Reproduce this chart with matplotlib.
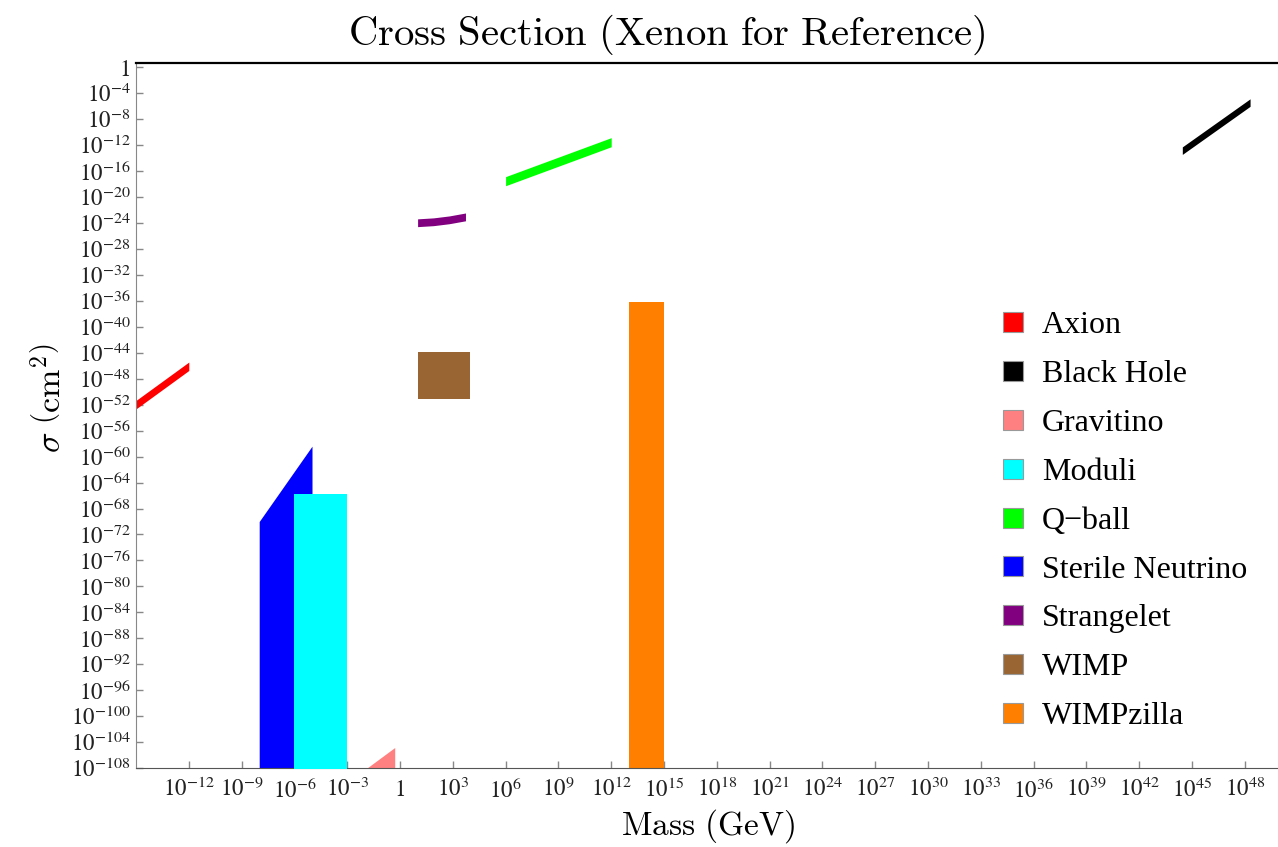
import numpy as np
import matplotlib.pyplot as plt
from matplotlib.lines import Line2D

# ---- data (log10 exponents) ----
names = ['Axion', 'Black Hole', 'Gravitino', 'Moduli', 'Q\u2212ball',
         'Sterile Neutrino', 'Strangelet', 'WIMP', 'WIMPzilla']
colors = ['#ff0000', '#000000', '#ff8080', '#00ffff', '#00ff00',
          '#0000ff', '#800080', '#996633', '#ff8000']

# thin bands: mass exponents, centre of sigma band, half width of band
axion_m = [-15.3, -12.0]
axion_s = [-52.6, -46.1]
axion_w = 0.65

bh_m = [44.45, 48.3]
bh_s = [-12.9, -5.5]
bh_w = 0.58

qball_m = [6.0, 12.0]
qball_s = [-17.6, -11.6]
qball_w = 0.7

strange_m = [1.0, 1.9, 2.8, 3.72]
strange_s = [-24.0, -23.85, -23.55, -23.1]
strange_w = 0.6

# regions filled down to the bottom of the plot
sterile_m = [-8.0, -5.0]
sterile_top = [-70.0, -58.4]

moduli_m = [-6.0, -3.0]
moduli_top = [-65.8, -65.8]

gravitino_m = [-2.1, -0.3]
gravitino_top = [-108.4, -104.8]

wimpzilla_m = [13.0, 15.0]
wimpzilla_top = [-36.2, -36.2]

# boxes
wimp_m = [1.0, 4.0]
wimp_lo = -51.1
wimp_hi = -43.9

floor_exp = -112

xtick_exp = list(range(-12, 49, 3))
ytick_exp = list(range(0, -109, -4))


def p(e):
    return 10.0 ** np.array(e, dtype=float)


fig = plt.figure(figsize=(12.78, 8.47), dpi=100)
W, H = 1278, 847
ax = fig.add_axes([136 / W, 1 - 768.3 / H, (1280 - 136) / W, (768.3 - 63.3) / H])
ax.set_xscale('log')
ax.set_yscale('log')

def band(m, s, w, c, z=2):
    s = np.array(s)
    ax.fill_between(p(m), p(s - w), p(s + w), color=c, lw=0, zorder=z)

band(axion_m, axion_s, axion_w, colors[0])
band(bh_m, bh_s, bh_w, colors[1])
band(qball_m, qball_s, qball_w, colors[4])
band(strange_m, strange_s, strange_w, colors[6])

ax.fill_between(p(sterile_m), p(floor_exp), p(sterile_top), color=colors[5], lw=0, zorder=2)
ax.fill_between(p(moduli_m), p(floor_exp), p(moduli_top), color=colors[3], lw=0, zorder=3)
ax.fill_between(p(gravitino_m), p(floor_exp), p(gravitino_top), color=colors[2], lw=0, zorder=2)
ax.fill_between(p(wimpzilla_m), p(floor_exp), p(wimpzilla_top), color=colors[8], lw=0, zorder=2)
ax.fill_between(p(wimp_m), p(wimp_lo), p(wimp_hi), color=colors[7], lw=0, zorder=2)

ax.set_xlim(1e-15, 1e50)
ax.set_ylim(1e-108, 10 ** 0.55)
ax.minorticks_off()

xlabels = ['$1$' if e == 0 else '$10^{%d}$' % e for e in xtick_exp]
ylabels = ['$1$' if e == 0 else '$10^{%d}$' % e for e in ytick_exp]
ax.set_xticks(p(xtick_exp), xlabels)
ax.set_yticks(p(ytick_exp), ylabels)
for lab in ax.get_xticklabels() + ax.get_yticklabels():
    lab.set_math_fontfamily('stix')
    lab.set_fontsize(16.5)
    lab.set_color('#222222')
ax.tick_params(direction='in', length=5, width=1, color='#888888')
ax.tick_params(axis='y', pad=4)
ax.tick_params(axis='x', pad=7)

ax.spines['right'].set_visible(False)
ax.spines['top'].set_color('black')
ax.spines['top'].set_linewidth(1.6)
ax.spines['left'].set_color('#888888')
ax.spines['bottom'].set_color('#555555')

fig.text(667 / W, 1 - 35 / H, r'$\mathrm{Cross\ Section\ (Xenon\ for\ Reference)}$',
         ha='center', va='center', fontsize=29.3, math_fontfamily='cm')
fig.text(708 / W, 1 - 826 / H, r'$\mathrm{Mass\ (GeV)}$',
         ha='center', va='center', fontsize=24, math_fontfamily='cm')
fig.text(51 / W, 1 - 398 / H, r'$\sigma\ \left(\mathrm{cm}^2\right)$', rotation=90,
         ha='center', va='center', fontsize=24.5, math_fontfamily='cm')

handles = [Line2D([], [], ls='none', marker='s', markersize=14, markerfacecolor=c,
                  markeredgecolor='#999999', markeredgewidth=0.8) for c in colors]
ax.legend(handles, names, loc='upper left', bbox_to_anchor=(997.5 / W, 1 - 311 / H),
          bbox_transform=fig.transFigure, frameon=False, borderpad=0, borderaxespad=0,
          handlelength=1.0, handletextpad=0.4, labelspacing=0.61,
          prop={'family': 'Liberation Serif', 'size': 23})

fig.savefig('out.png', dpi=100)
